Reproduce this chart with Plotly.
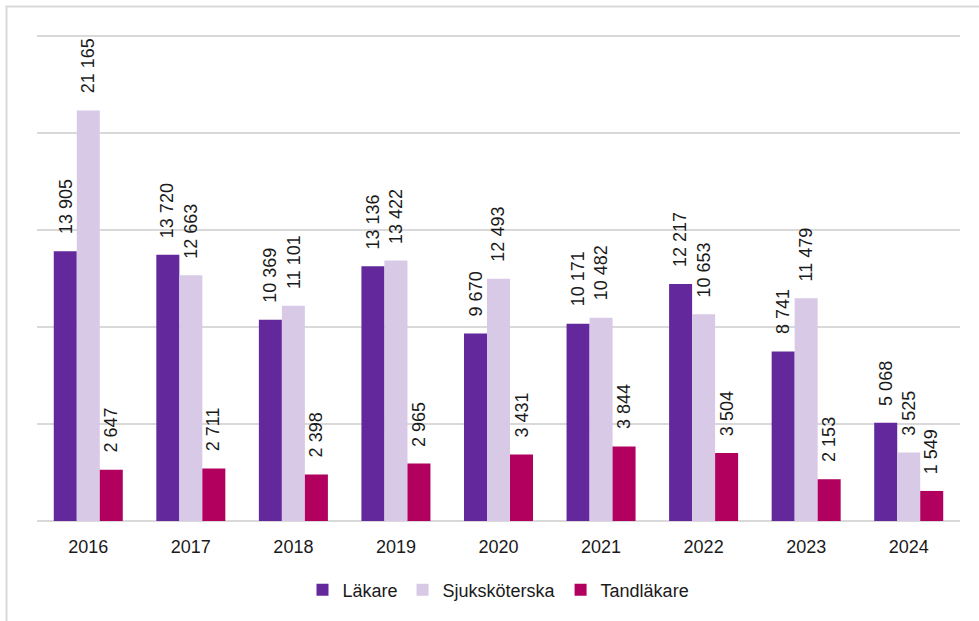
import plotly.graph_objects as go

years = ["2016", "2017", "2018", "2019", "2020", "2021", "2022", "2023", "2024"]
lakare = [13905, 13720, 10369, 13136, 9670, 10171, 12217, 8741, 5068]
sjukskoterska = [21165, 12663, 11101, 13422, 12493, 10482, 10653, 11479, 3525]
tandlakare = [2647, 2711, 2398, 2965, 3431, 3844, 3504, 2153, 1549]
grid_values = [0, 5000, 10000, 15000, 20000, 25000]

series = [
    ("Läkare", lakare, "#62289C"),
    ("Sjuksköterska", sjukskoterska, "#D8C9E6"),
    ("Tandläkare", tandlakare, "#B2005E"),
]

W, H = 979, 621
ml, mr, mt, mb = 37, 19, 30, 100
bargap = 0.327
FONT = "Liberation Sans, Arial, sans-serif"
# scale: 25000 units span 485 px (from y=521 to y=36)
px_per_unit = 485 / 25000
y_top = (H - mb - mt) / px_per_unit

fig = go.Figure()
for name, vals, col in series:
    fig.add_trace(go.Bar(
        x=years, y=vals, name=name,
        marker=dict(color=col, line=dict(width=0)),
        hoverinfo="x+y+name",
    ))

def fmt(v):
    return f"{v:,}".replace(",", " ")

plot_w = W - ml - mr
cat_px = plot_w / len(years)
bw = cat_px * (1 - bargap) / len(series)

annotations = []
for i, (name, vals, col) in enumerate(series):
    off = (i - (len(series) - 1) / 2) * bw
    for k, v in enumerate(vals):
        annotations.append(dict(
            x=k, y=v, xref="x", yref="y",
            text=fmt(v), showarrow=False, textangle=-90,
            xanchor="center", yanchor="bottom",
            xshift=off, yshift=15,
            font=dict(family=FONT, size=18, color="#1a1a1a"),
        ))

plot_h = H - mt - mb
fig.update_layout(
    width=W, height=H,
    margin=dict(l=ml, r=mr, t=mt, b=mb),
    paper_bgcolor="white", plot_bgcolor="white",
    barmode="group", bargap=bargap, bargroupgap=0,
    font=dict(family=FONT, size=18, color="#1a1a1a"),
    showlegend=True,
    legend=dict(
        orientation="h", x=0.5, xanchor="center",
        y=-(590 - (H - mb)) / plot_h, yanchor="middle",
        font=dict(family=FONT, size=18, color="#1a1a1a"),
        itemclick=False, itemdoubleclick=False,
    ),
    xaxis=dict(
        type="category", showgrid=False, showline=False, ticks="",
        range=[-0.5, len(years) - 0.5], automargin=False,
        ticklabelstandoff=13,
        tickfont=dict(family=FONT, size=18, color="#1a1a1a"),
    ),
    yaxis=dict(
        range=[0, y_top], tickvals=grid_values,
        showticklabels=False, automargin=False,
        showgrid=True, gridcolor="#d9d9d9", gridwidth=1.5,
        zeroline=True, zerolinecolor="#d9d9d9", zerolinewidth=1.5,
        showline=False, ticks="",
    ),
    annotations=annotations,
    shapes=[dict(
        type="rect", xref="paper", yref="paper",
        x0=(6.5 - ml) / plot_w, x1=1.2,
        y0=-0.5, y1=((H - mb) - 6.5) / plot_h,
        line=dict(color="#d9d9d9", width=2), layer="below",
    )],
)

fig.write_html(
    "out.html",
    config={"displayModeBar": False},
    post_script="document.body.style.margin='0';document.body.style.overflow='hidden';",
)
